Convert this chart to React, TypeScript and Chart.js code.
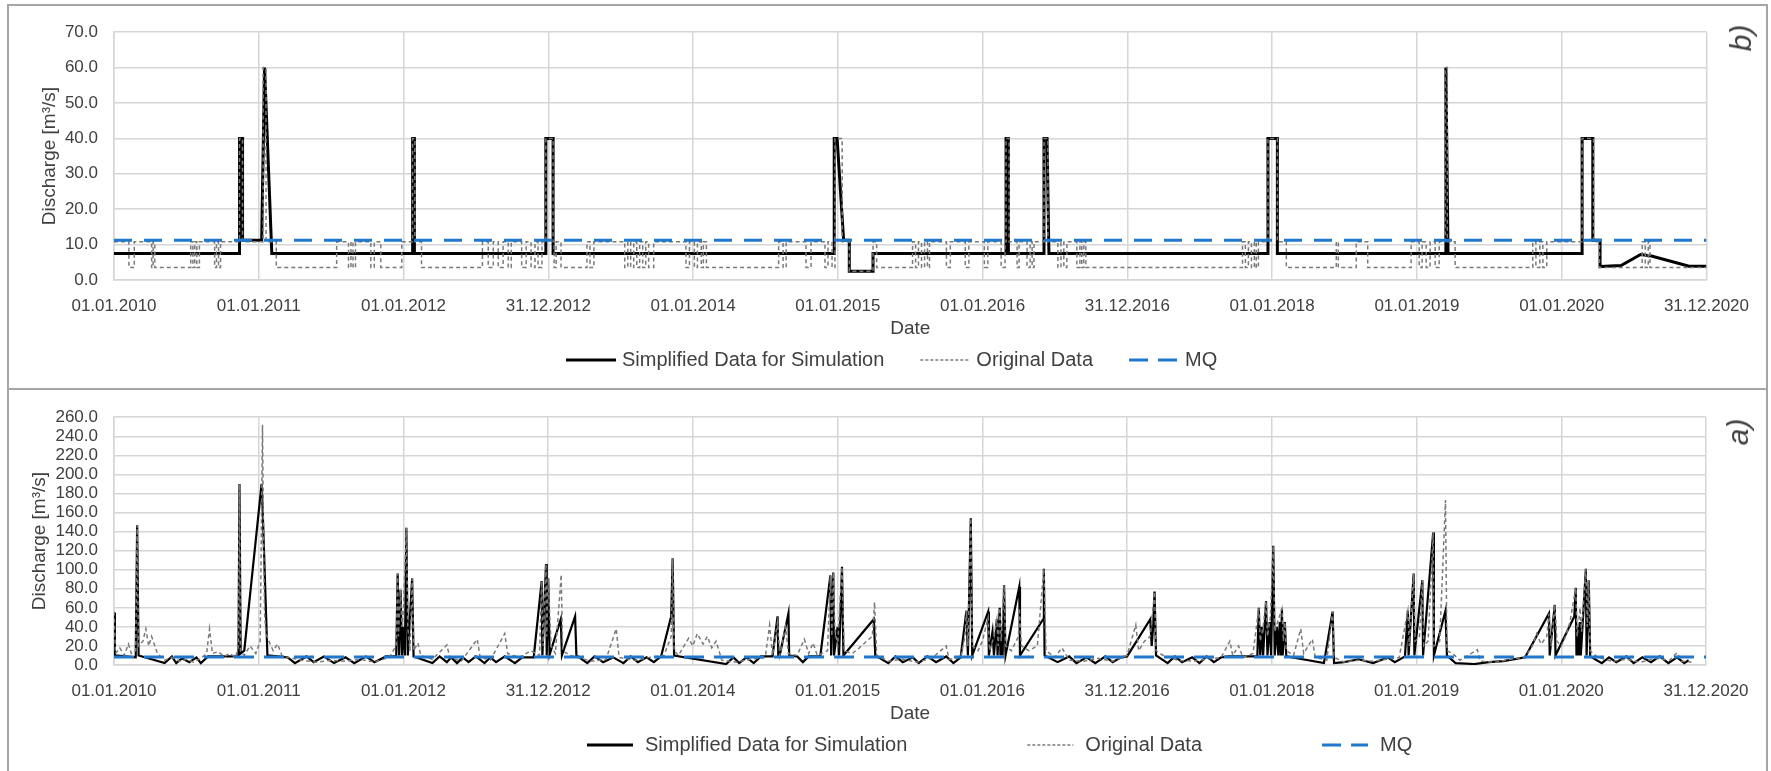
import React, { useEffect, useRef } from "react";
import { Chart, registerables } from "chart.js";

Chart.register(...registerables);

const FONT_FAMILY = "'Liberation Sans', Arial, Helvetica, sans-serif";
const TEXT_COLOR = "#404040";
const GRID_COLOR = "#d6d6d6";
const BLUE = "#1f78cc";

// ---------- shared x axis ----------
const xTickYears = [2010, 2011, 2012, 2013, 2014, 2015, 2016, 2017, 2018, 2019, 2020, 2021];
const xTickLabels = [
  "01.01.2010", "01.01.2011", "01.01.2012", "31.12.2012", "01.01.2014", "01.01.2015",
  "01.01.2016", "31.12.2016", "01.01.2018", "01.01.2019", "01.01.2020", "31.12.2020",
];

const seriesLabels = ["Simplified Data for Simulation", "Original Data", "MQ"];

// ---------- panel b) (top) ----------
const topSimplified: [number, number][] = [
  [2010.0, 7.5], [2010.867, 7.5], [2010.867, 40], [2010.888, 40], [2010.888, 11.2], [2011.02, 11.2],
  [2011.04, 60], [2011.09, 7.5], [2012.063, 7.5], [2012.063, 40], [2012.075, 40], [2012.075, 7.5],
  [2012.983, 7.5], [2012.983, 40], [2013.033, 40], [2013.033, 7.5], [2014.975, 7.5], [2014.975, 40],
  [2014.995, 40], [2015.04, 11.2], [2015.079, 11.2], [2015.079, 2.5], [2015.243, 2.5], [2015.243, 7.5],
  [2016.162, 7.5], [2016.162, 40], [2016.178, 40], [2016.178, 7.5], [2016.424, 7.5], [2016.424, 40],
  [2016.445, 40], [2016.458, 7.5], [2017.971, 7.5], [2017.971, 40], [2018.036, 40], [2018.036, 7.5],
  [2019.195, 7.5], [2019.2, 60], [2019.215, 7.5], [2020.141, 7.5], [2020.141, 40], [2020.215, 40],
  [2020.215, 11.2], [2020.265, 11.2], [2020.265, 3.8], [2020.41, 4.1], [2020.545, 7.2], [2020.62, 6.8],
  [2020.88, 3.9], [2021.0, 3.9],
];

// each entry: [start of step, level held until the next entry]
const topOriginal: [number, number][] = [
  [2010.0, 10.8], [2010.103, 3.5], [2010.14, 10.8], [2010.26, 3.5], [2010.27, 10.8], [2010.282, 3.5],
  [2010.53, 10.8], [2010.545, 3.5], [2010.558, 10.8], [2010.572, 3.5], [2010.59, 10.8], [2010.695, 3.5],
  [2010.708, 10.8], [2010.722, 3.5], [2010.736, 10.8], [2010.867, 40], [2010.888, 10.8], [2011.03, 60],
  [2011.05, 10.8], [2011.121, 3.5], [2011.538, 10.8], [2011.62, 3.5], [2011.637, 10.8], [2011.651, 3.5],
  [2011.668, 10.8], [2011.774, 3.5], [2011.798, 10.8], [2011.843, 3.5], [2011.988, 10.8], [2012.063, 40],
  [2012.078, 10.8], [2012.124, 3.5], [2012.545, 10.8], [2012.585, 3.5], [2012.62, 10.8], [2012.654, 3.5],
  [2012.688, 10.8], [2012.723, 3.5], [2012.744, 10.8], [2012.816, 3.5], [2012.847, 10.8], [2012.881, 3.5],
  [2012.908, 10.8], [2012.929, 3.5], [2012.956, 10.8], [2012.983, 40], [2013.033, 10.8], [2013.04, 3.5],
  [2013.054, 10.8], [2013.088, 3.5], [2013.267, 10.8], [2013.288, 3.5], [2013.315, 10.8], [2013.528, 3.5],
  [2013.549, 10.8], [2013.569, 3.5], [2013.59, 10.8], [2013.611, 3.5], [2013.631, 10.8], [2013.652, 3.5],
  [2013.673, 10.8], [2013.693, 3.5], [2013.728, 10.8], [2013.951, 3.5], [2013.975, 10.8], [2014.009, 3.5],
  [2014.03, 10.8], [2014.057, 3.5], [2014.071, 10.8], [2014.092, 3.5], [2014.591, 10.8], [2014.622, 3.5],
  [2014.643, 10.8], [2014.78, 3.5], [2014.815, 10.8], [2014.911, 3.5], [2014.932, 10.8], [2014.96, 3.5],
  [2014.98, 40], [2015.03, 10.8], [2015.079, 2.5], [2015.243, 10.8], [2015.268, 3.5], [2015.516, 10.8],
  [2015.537, 3.5], [2015.557, 10.8], [2015.578, 3.5], [2015.599, 10.8], [2015.619, 3.5], [2015.633, 10.8],
  [2015.75, 3.5], [2015.777, 10.8], [2015.88, 3.5], [2015.905, 10.8], [2016.012, 3.5], [2016.036, 10.8],
  [2016.128, 3.5], [2016.155, 10.8], [2016.162, 40], [2016.183, 10.8], [2016.238, 3.5], [2016.252, 10.8],
  [2016.307, 3.5], [2016.328, 10.8], [2016.342, 3.5], [2016.355, 10.8], [2016.424, 40], [2016.451, 10.8],
  [2016.52, 3.5], [2016.541, 10.8], [2016.561, 3.5], [2016.582, 10.8], [2016.651, 3.5], [2016.672, 10.8],
  [2016.685, 3.5], [2016.699, 10.8], [2016.713, 3.5], [2017.795, 10.8], [2017.815, 3.5], [2017.836, 10.8],
  [2017.857, 3.5], [2017.877, 10.8], [2017.89, 3.5], [2017.905, 10.8], [2017.971, 40], [2018.036, 10.8],
  [2018.098, 3.5], [2018.443, 10.8], [2018.457, 3.5], [2018.581, 10.8], [2018.66, 3.5], [2018.96, 10.8],
  [2019.016, 3.5], [2019.036, 10.8], [2019.064, 3.5], [2019.091, 10.8], [2019.126, 3.5], [2019.154, 10.8],
  [2019.195, 60], [2019.21, 10.8], [2019.264, 3.5], [2019.8, 10.8], [2019.822, 3.5], [2019.849, 10.8],
  [2019.87, 3.5], [2019.897, 10.8], [2020.141, 40], [2020.22, 10.8], [2020.261, 3.5], [2020.556, 10.8],
  [2020.577, 3.5], [2020.598, 10.8], [2020.61, 3.5], [2021.0, 3.5],
];

const topMQ = 11.2;

// ---------- panel a) (bottom) ----------
const botSimplified: [number, number][] = [
  [2010.0, 55], [2010.006, 10], [2010.15, 8], [2010.16, 147], [2010.17, 10], [2010.35, 2], [2010.4, 9],
  [2010.43, 2], [2010.47, 7], [2010.52, 3], [2010.57, 8], [2010.6, 2], [2010.65, 9], [2010.86, 9],
  [2010.867, 190], [2010.875, 12], [2010.9, 15], [2011.02, 190], [2011.03, 150], [2011.06, 10],
  [2011.2, 8], [2011.25, 2], [2011.33, 9], [2011.38, 3], [2011.45, 9], [2011.52, 2], [2011.6, 8],
  [2011.66, 2], [2011.74, 9], [2011.8, 3], [2011.88, 9], [2011.95, 9], [2011.96, 96], [2011.97, 10],
  [2011.98, 79], [2011.99, 10], [2012.0, 40], [2012.01, 10], [2012.02, 144], [2012.03, 10], [2012.06, 91],
  [2012.07, 9], [2012.2, 2], [2012.25, 9], [2012.3, 3], [2012.33, 8], [2012.37, 2], [2012.41, 8],
  [2012.45, 3], [2012.5, 9], [2012.56, 2], [2012.6, 8], [2012.64, 3], [2012.7, 9], [2012.77, 2],
  [2012.82, 8], [2012.9, 8], [2012.955, 88], [2012.96, 10], [2012.985, 106], [2012.99, 10], [2013.0, 91],
  [2013.01, 11], [2013.087, 48], [2013.095, 10], [2013.186, 51], [2013.195, 10], [2013.27, 2], [2013.32, 9],
  [2013.38, 3], [2013.45, 8], [2013.52, 2], [2013.57, 9], [2013.62, 3], [2013.68, 8], [2013.73, 3],
  [2013.78, 9], [2013.85, 51], [2013.86, 112], [2013.87, 10], [2014.23, 1], [2014.28, 8], [2014.32, 2],
  [2014.37, 8], [2014.42, 2], [2014.47, 9], [2014.55, 9], [2014.585, 51], [2014.59, 10], [2014.6, 10],
  [2014.66, 54], [2014.665, 10], [2014.72, 9], [2014.76, 3], [2014.8, 9], [2014.88, 9], [2014.95, 94],
  [2014.955, 10], [2014.97, 97], [2014.975, 10], [2015.0, 40], [2015.01, 10], [2015.03, 103], [2015.04, 10],
  [2015.25, 48], [2015.26, 10], [2015.35, 2], [2015.4, 9], [2015.45, 3], [2015.52, 8], [2015.56, 2],
  [2015.62, 9], [2015.68, 3], [2015.75, 9], [2015.8, 2], [2015.85, 8], [2015.89, 57], [2015.9, 10],
  [2015.92, 154], [2015.93, 10], [2016.04, 56], [2016.045, 10], [2016.07, 35], [2016.08, 10], [2016.1, 48],
  [2016.105, 10], [2016.12, 60], [2016.125, 10], [2016.135, 40], [2016.14, 10], [2016.15, 84], [2016.16, 10],
  [2016.255, 82], [2016.26, 10], [2016.42, 48], [2016.425, 101], [2016.43, 10], [2016.52, 3], [2016.6, 9],
  [2016.65, 2], [2016.72, 8], [2016.78, 2], [2016.85, 9], [2016.9, 3], [2016.96, 8], [2017.0, 9],
  [2017.16, 48], [2017.17, 20], [2017.18, 40], [2017.19, 77], [2017.2, 10], [2017.28, 2], [2017.33, 9],
  [2017.38, 3], [2017.45, 8], [2017.5, 2], [2017.55, 9], [2017.6, 3], [2017.65, 8], [2017.7, 9],
  [2017.9, 9], [2017.91, 60], [2017.92, 10], [2017.93, 40], [2017.94, 10], [2017.96, 67], [2017.97, 10],
  [2017.985, 45], [2017.995, 10], [2018.01, 125], [2018.02, 10], [2018.035, 40], [2018.045, 10],
  [2018.055, 45], [2018.062, 10], [2018.07, 59], [2018.075, 10], [2018.09, 45], [2018.1, 9], [2018.36, 2],
  [2018.42, 56], [2018.43, 2], [2018.5, 3], [2018.6, 6], [2018.7, 2], [2018.8, 8], [2018.85, 3],
  [2018.92, 9], [2018.94, 57], [2018.945, 10], [2018.98, 96], [2018.985, 10], [2019.04, 89], [2019.045, 10],
  [2019.115, 139], [2019.12, 10], [2019.2, 57], [2019.21, 10], [2019.27, 2], [2019.4, 1], [2019.5, 3],
  [2019.6, 4], [2019.75, 8], [2019.915, 54], [2019.92, 10], [2019.955, 63], [2019.96, 10], [2020.09, 51],
  [2020.1, 81], [2020.105, 10], [2020.115, 40], [2020.12, 10], [2020.13, 45], [2020.135, 10], [2020.17, 101],
  [2020.175, 10], [2020.19, 89], [2020.2, 9], [2020.28, 2], [2020.33, 8], [2020.38, 3], [2020.45, 9],
  [2020.5, 2], [2020.56, 8], [2020.62, 3], [2020.68, 9], [2020.74, 2], [2020.8, 8], [2020.85, 2], [2020.88, 5],
];

const botOriginal: [number, number][] = [
  [2010.0, 56], [2010.01, 12], [2010.04, 18], [2010.07, 10], [2010.1, 22], [2010.12, 12], [2010.15, 15],
  [2010.16, 147], [2010.165, 70], [2010.17, 20], [2010.2, 25], [2010.22, 38], [2010.24, 20], [2010.26, 30],
  [2010.3, 12], [2010.35, 5], [2010.4, 8], [2010.45, 4], [2010.5, 6], [2010.55, 3], [2010.6, 7],
  [2010.64, 12], [2010.66, 38], [2010.68, 12], [2010.72, 14], [2010.76, 9], [2010.8, 12], [2010.84, 8],
  [2010.86, 20], [2010.867, 190], [2010.873, 15], [2010.9, 10], [2010.94, 20], [2010.98, 12], [2011.01, 25],
  [2011.026, 252], [2011.032, 153], [2011.04, 55], [2011.05, 33], [2011.07, 25], [2011.1, 15], [2011.13, 22],
  [2011.16, 10], [2011.2, 8], [2011.3, 5], [2011.4, 3], [2011.5, 5], [2011.6, 4], [2011.7, 6], [2011.8, 3],
  [2011.9, 8], [2011.95, 20], [2011.96, 96], [2011.965, 30], [2011.98, 79], [2011.99, 40], [2012.0, 60],
  [2012.02, 144], [2012.03, 40], [2012.045, 15], [2012.06, 91], [2012.07, 15], [2012.1, 23], [2012.12, 10],
  [2012.2, 6], [2012.3, 21], [2012.32, 8], [2012.4, 4], [2012.51, 27], [2012.53, 8], [2012.6, 5],
  [2012.7, 33], [2012.72, 12], [2012.8, 8], [2012.88, 15], [2012.94, 10], [2012.955, 88], [2012.965, 20],
  [2012.985, 106], [2012.99, 30], [2013.0, 91], [2013.02, 20], [2013.05, 12], [2013.09, 95], [2013.1, 15],
  [2013.15, 10], [2013.2, 8], [2013.3, 4], [2013.4, 6], [2013.47, 38], [2013.49, 8], [2013.6, 5],
  [2013.7, 8], [2013.8, 10], [2013.85, 30], [2013.86, 112], [2013.87, 15], [2013.9, 10], [2013.97, 28],
  [2014.0, 20], [2014.03, 33], [2014.07, 22], [2014.1, 30], [2014.13, 18], [2014.16, 25], [2014.2, 5],
  [2014.3, 3], [2014.4, 6], [2014.5, 8], [2014.53, 42], [2014.55, 10], [2014.585, 45], [2014.6, 10],
  [2014.64, 40], [2014.66, 12], [2014.72, 10], [2014.77, 27], [2014.8, 12], [2014.83, 23], [2014.86, 10],
  [2014.93, 15], [2014.95, 94], [2014.96, 30], [2014.97, 97], [2014.98, 40], [2015.0, 20], [2015.03, 103],
  [2015.045, 15], [2015.1, 12], [2015.15, 18], [2015.2, 25], [2015.24, 30], [2015.255, 66], [2015.27, 10],
  [2015.35, 4], [2015.45, 6], [2015.55, 3], [2015.65, 7], [2015.75, 20], [2015.77, 6], [2015.85, 8],
  [2015.88, 30], [2015.89, 57], [2015.9, 20], [2015.92, 154], [2015.93, 20], [2015.97, 15], [2016.0, 25],
  [2016.04, 50], [2016.05, 15], [2016.08, 30], [2016.1, 48], [2016.11, 20], [2016.12, 60], [2016.13, 25],
  [2016.15, 84], [2016.16, 20], [2016.2, 15], [2016.25, 30], [2016.255, 60], [2016.27, 20], [2016.32, 15],
  [2016.38, 20], [2016.425, 101], [2016.44, 15], [2016.5, 8], [2016.55, 18], [2016.6, 5], [2016.7, 4],
  [2016.8, 7], [2016.9, 4], [2017.0, 10], [2017.06, 42], [2017.08, 15], [2017.12, 25], [2017.16, 30],
  [2017.19, 77], [2017.2, 15], [2017.25, 10], [2017.35, 5], [2017.45, 4], [2017.55, 6], [2017.65, 8],
  [2017.71, 25], [2017.73, 10], [2017.77, 20], [2017.8, 8], [2017.87, 12], [2017.91, 60], [2017.92, 25],
  [2017.94, 40], [2017.96, 67], [2017.97, 30], [2017.99, 50], [2018.01, 125], [2018.02, 35], [2018.04, 45],
  [2018.07, 59], [2018.08, 25], [2018.09, 45], [2018.1, 15], [2018.15, 10], [2018.2, 38], [2018.22, 12],
  [2018.28, 27], [2018.3, 8], [2018.38, 5], [2018.42, 56], [2018.43, 8], [2018.5, 3], [2018.6, 5],
  [2018.7, 4], [2018.8, 6], [2018.88, 8], [2018.94, 57], [2018.95, 20], [2018.98, 96], [2018.99, 25],
  [2019.02, 30], [2019.04, 89], [2019.05, 20], [2019.08, 25], [2019.115, 139], [2019.12, 20], [2019.16, 25],
  [2019.2, 173], [2019.21, 15], [2019.25, 12], [2019.3, 5], [2019.42, 16], [2019.44, 4], [2019.55, 3],
  [2019.65, 6], [2019.75, 8], [2019.8, 20], [2019.83, 33], [2019.86, 22], [2019.9, 30], [2019.915, 54],
  [2019.93, 20], [2019.955, 63], [2019.97, 25], [2020.0, 20], [2020.03, 30], [2020.06, 45], [2020.1, 81],
  [2020.11, 30], [2020.13, 60], [2020.14, 35], [2020.17, 101], [2020.18, 40], [2020.19, 89], [2020.2, 15],
  [2020.25, 8], [2020.35, 4], [2020.45, 6], [2020.55, 3], [2020.65, 7], [2020.75, 5], [2020.8, 13],
  [2020.83, 4], [2020.9, 3],
];

const botMQ = 8.5;

// ---------- helpers ----------
const toPoints = (arr: [number, number][]) => arr.map(([x, y]) => ({ x, y }));

const lineLegendPlugin = {
  id: "lineLegend",
  afterDraw(chart: any, _args: any, opts: any) {
    const ctx = chart.ctx as CanvasRenderingContext2D;
    ctx.save();
    ctx.font = `${opts.fontSize}px ${FONT_FAMILY}`;
    ctx.textBaseline = "middle";
    ctx.textAlign = "left";
    let x = opts.x as number;
    const y = opts.y as number;
    chart.data.datasets.forEach((ds: any) => {
      ctx.strokeStyle = ds.borderColor;
      ctx.lineWidth = ds.legendLineWidth ?? ds.borderWidth;
      ctx.setLineDash(ds.legendDash ?? []);
      ctx.beginPath();
      ctx.moveTo(x, y);
      ctx.lineTo(x + opts.sample, y);
      ctx.stroke();
      ctx.setLineDash([]);
      ctx.fillStyle = TEXT_COLOR;
      const tx = x + opts.sample + opts.textGap;
      ctx.fillText(ds.label, tx, y);
      x = tx + ctx.measureText(ds.label).width + opts.gap;
    });
    ctx.restore();
  },
};

type PanelCfg = {
  simplified: [number, number][];
  original: [number, number][];
  mq: number;
  stepped: boolean;
  simWidth: number;
  mqDash: number[];
  yMax: number;
  yStep: number;
  padTop: number;
  padRight: number;
  yTitlePad: number;
  legendX: number;
  legendGap: number;
  legendSample: number;
  legendTextGap: number;
};

function buildConfig(p: PanelCfg): any {
  const tickFont = { family: FONT_FAMILY, size: 17 };
  const titleFont = { family: FONT_FAMILY, size: 19 };
  return {
    type: "line",
    data: {
      datasets: [
        {
          label: seriesLabels[0],
          data: toPoints(p.simplified),
          borderColor: "#000000",
          borderWidth: p.simWidth,
          legendLineWidth: 3,
          pointRadius: 0,
          tension: 0,
          order: 2,
        },
        {
          label: seriesLabels[1],
          data: toPoints(p.original),
          borderColor: "#7a7a7a",
          borderWidth: 1.5,
          borderDash: [4, 3],
          legendDash: [3, 2],
          stepped: p.stepped ? "before" : false,
          pointRadius: 0,
          tension: 0,
          order: 1,
        },
        {
          label: seriesLabels[2],
          data: [
            { x: xTickYears[0], y: p.mq },
            { x: xTickYears[xTickYears.length - 1], y: p.mq },
          ],
          borderColor: BLUE,
          borderWidth: 3,
          borderDash: p.mqDash,
          legendDash: [19, 10],
          pointRadius: 0,
          order: 0,
        },
      ],
    },
    options: {
      animation: false,
      responsive: false,
      events: [],
      layout: { padding: { top: p.padTop, right: p.padRight, bottom: 46, left: 0 } },
      scales: {
        x: {
          type: "linear",
          min: xTickYears[0],
          max: xTickYears[xTickYears.length - 1],
          afterBuildTicks: (scale: any) => {
            scale.ticks = xTickYears.map((v) => ({ value: v }));
          },
          afterFit: (scale: any) => {
            scale.height = 60;
          },
          ticks: {
            autoSkip: false,
            maxRotation: 0,
            minRotation: 0,
            padding: 16,
            color: TEXT_COLOR,
            font: tickFont,
            callback: (v: any) => xTickLabels[xTickYears.indexOf(Number(v))] ?? "",
          },
          grid: { color: GRID_COLOR, lineWidth: 1.5, drawTicks: false },
          border: { display: true, color: GRID_COLOR, width: 1.5 },
          title: { display: true, text: "Date", color: TEXT_COLOR, font: titleFont, padding: 0 },
        },
        y: {
          type: "linear",
          min: 0,
          max: p.yMax,
          afterFit: (scale: any) => {
            scale.width = 104;
          },
          ticks: {
            stepSize: p.yStep,
            autoSkip: false,
            padding: 16,
            color: TEXT_COLOR,
            font: tickFont,
            callback: (v: any) => Number(v).toFixed(1),
          },
          grid: { color: GRID_COLOR, lineWidth: 1.5, drawTicks: false },
          border: { display: true, color: GRID_COLOR, width: 1.5 },
          title: {
            display: true,
            text: "Discharge [m³/s]",
            color: TEXT_COLOR,
            font: titleFont,
            padding: { top: p.yTitlePad, bottom: 0 },
          },
        },
      },
      plugins: {
        legend: { display: false },
        tooltip: { enabled: false },
        lineLegend: {
          x: p.legendX,
          y: 354,
          gap: p.legendGap,
          sample: p.legendSample,
          textGap: p.legendTextGap,
          fontSize: 20,
        },
      },
    },
    plugins: [lineLegendPlugin],
  };
}

function ChartCanvas({ cfg, left, top, width, height }: { cfg: PanelCfg; left: number; top: number; width: number; height: number }) {
  const ref = useRef<HTMLCanvasElement>(null);
  useEffect(() => {
    if (!ref.current) return;
    const chart = new Chart(ref.current, buildConfig(cfg));
    return () => chart.destroy();
  }, []);
  return (
    <canvas
      ref={ref}
      width={width}
      height={height}
      style={{ position: "absolute", left, top, width, height }}
    />
  );
}

const topCfg: PanelCfg = {
  simplified: topSimplified,
  original: topOriginal,
  mq: topMQ,
  stepped: true,
  simWidth: 3,
  mqDash: [18, 12],
  yMax: 70,
  yStep: 10,
  padTop: 19,
  padRight: 52,
  yTitlePad: 28.6,
  legendX: 556,
  legendGap: 36,
  legendSample: 50,
  legendTextGap: 6,
};

const botCfg: PanelCfg = {
  simplified: botSimplified,
  original: botOriginal,
  mq: botMQ,
  stepped: false,
  simWidth: 2.2,
  mqDash: [20, 10],
  yMax: 260,
  yStep: 20,
  padTop: 21,
  padRight: 59,
  yTitlePad: 18.6,
  legendX: 577,
  legendGap: 120,
  legendSample: 46,
  legendTextGap: 12,
};

export default function App() {
  Chart.defaults.font.family = FONT_FAMILY;
  const panelBorder = "2px solid #a6a6a6";
  const tagStyle: React.CSSProperties = {
    position: "absolute",
    transform: "translate(-50%, -50%) rotate(-90deg)",
    fontStyle: "italic",
    fontSize: 30,
    lineHeight: 1,
    color: TEXT_COLOR,
    whiteSpace: "nowrap",
    fontFamily: FONT_FAMILY,
  };
  return (
    <div
      style={{
        position: "absolute",
        left: 0,
        top: 0,
        width: 1771,
        height: 771,
        overflow: "hidden",
        background: "#ffffff",
        fontFamily: FONT_FAMILY,
      }}
    >
      <div style={{ position: "absolute", left: 7, top: 4, width: 1761, height: 386, border: panelBorder, boxSizing: "border-box" }} />
      <div style={{ position: "absolute", left: 7, top: 388, width: 1761, height: 400, border: panelBorder, boxSizing: "border-box" }} />
      <ChartCanvas cfg={topCfg} left={10} top={6} width={1755} height={380} />
      <ChartCanvas cfg={botCfg} left={10} top={391} width={1755} height={380} />
      <div style={{ ...tagStyle, left: 1741, top: 38 }}>b)</div>
      <div style={{ ...tagStyle, left: 1738, top: 432 }}>a)</div>
    </div>
  );
}
